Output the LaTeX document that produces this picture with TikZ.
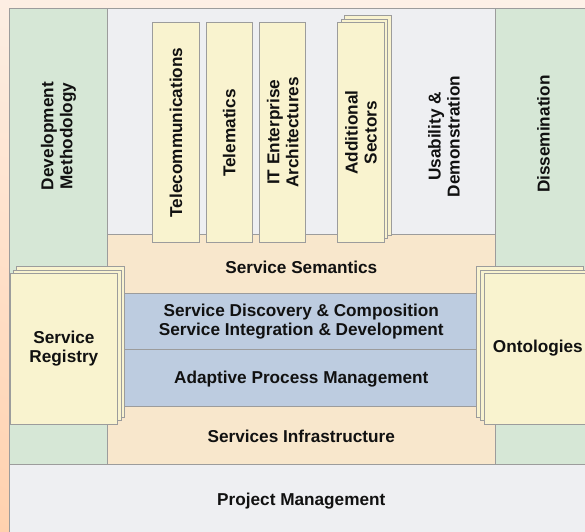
\documentclass[tikz,border=0pt]{standalone}
\usepackage{fontspec}
\setmainfont{Liberation Sans}
\usetikzlibrary{shadings}
\definecolor{bgTL}{HTML}{FDEEE3}
\definecolor{bgTR}{HTML}{FDF1E8}
\definecolor{bgBL}{HTML}{FFD1AE}
\definecolor{bgBR}{HTML}{FFE2CC}
\definecolor{edge}{HTML}{9C9C9C}
\definecolor{greenc}{HTML}{D6E7D6}
\definecolor{grayc}{HTML}{EEEFF2}
\definecolor{yellowc}{HTML}{F9F3CF}
\definecolor{orangec}{HTML}{F8E7CC}
\definecolor{bluec}{HTML}{BDCCE0}
\definecolor{ink}{HTML}{111111}
\begin{document}
\begin{tikzpicture}[x=1pt,y=1pt,
  panel/.style={draw=edge, line width=0.9pt},
  lbl/.style={font=\bfseries\fontsize{17.2}{19}\selectfont, align=center, text=ink, inner sep=0pt},
  vlbl/.style={lbl, rotate=90}]
\useasboundingbox (0,0) rectangle (585,-531);
\clip (0,0) rectangle (585,-531);
\shade[upper left=bgTL, upper right=bgTR, lower left=bgBL, lower right=bgBR] (0,0) rectangle (585,-531);

% columns and panels
\filldraw[panel, fill=greenc] (9.5,-8) rectangle (107.5,-464);
\filldraw[panel, fill=greenc] (495,-8) rectangle (593,-464);
\filldraw[panel, fill=grayc] (107.5,-8) rectangle (495,-234);
\filldraw[panel, fill=orangec] (107.5,-234) rectangle (495,-293);
\filldraw[panel, fill=bluec] (107.5,-293) rectangle (495,-349);
\filldraw[panel, fill=bluec] (107.5,-349) rectangle (495,-406);
\filldraw[panel, fill=orangec] (107.5,-406) rectangle (495,-464);
\filldraw[panel, fill=grayc] (9.5,-464) rectangle (593,-534);

% vertical sector bars
\filldraw[panel, fill=yellowc] (152.5,-22.7) rectangle (199,-242);
\filldraw[panel, fill=yellowc] (206,-22.7) rectangle (252,-242);
\filldraw[panel, fill=yellowc] (259.5,-22.7) rectangle (305.7,-242);
\filldraw[panel, fill=yellowc] (344.3,-15.7) rectangle (391,-235);
\filldraw[panel, fill=yellowc] (341,-19.3) rectangle (387.7,-238.7);
\filldraw[panel, fill=yellowc] (337.7,-22.7) rectangle (384,-242.3);

% service registry stack
\filldraw[panel, fill=yellowc] (16.7,-266.7) rectangle (124.3,-417.3);
\filldraw[panel, fill=yellowc] (13.3,-270) rectangle (121,-420.7);
\filldraw[panel, fill=yellowc] (10,-273.3) rectangle (117.7,-424);

% ontologies stack
\filldraw[panel, fill=yellowc] (476,-266.7) rectangle (583.7,-417.3);
\filldraw[panel, fill=yellowc] (480,-270) rectangle (587.7,-420.7);
\filldraw[panel, fill=yellowc] (484,-273.3) rectangle (591.7,-424);

% labels
\node[vlbl] (devm) at (58.5,-136) {Development\\Methodology};
\node[vlbl] (tele) at (175.9,-132.5) {Telecommunications};
\node[vlbl] (telm) at (229.2,-133) {Telematics};
\node[vlbl] (itea) at (282.6,-132.4) {IT Enterprise\\Architectures};
\node[vlbl] (adds) at (361,-132.5) {Additional\\Sectors};
\node[vlbl] (usab) at (444,-136.5) {Usability \&\\Demonstration};
\node[vlbl] (diss) at (543.5,-134.2) {Dissemination};

\node[lbl, anchor=base] (sem) at (301.3,-273.3) {Service Semantics};
\node[lbl] (disc) at (301.3,-322) {Service Discovery \& Composition\\Service Integration \& Development};
\node[lbl, anchor=base] (apm) at (301.3,-383.3) {Adaptive Process Management};
\node[lbl, anchor=base] (infra) at (301.3,-442.3) {Services Infrastructure};
\node[lbl, anchor=base] (pm) at (301.3,-505) {Project Management};

\node[lbl] (reg) at (63.9,-348.5) {Service\\Registry};
\node[lbl] (onto) at (537.8,-348) {Ontologies};
\end{tikzpicture}
\end{document}
